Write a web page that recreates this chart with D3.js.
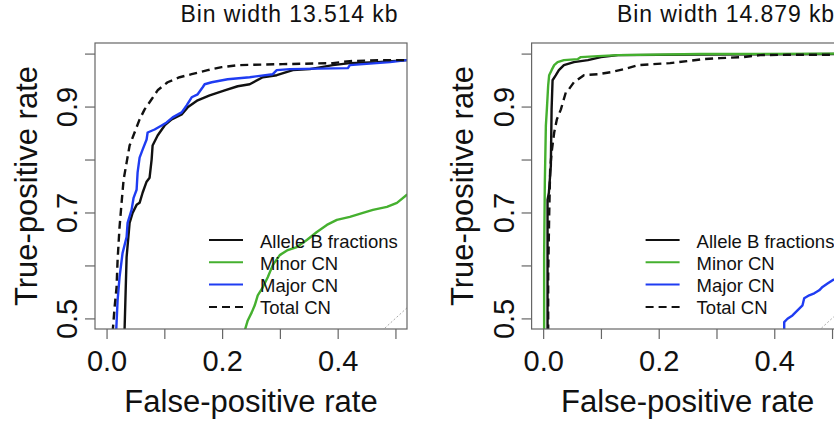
<!DOCTYPE html>
<html>
<head>
<meta charset="utf-8">
<script src="https://cdn.jsdelivr.net/npm/d3@7"></script>
<style>
  html, body { margin: 0; padding: 0; background: #fff; overflow: hidden; }
  svg { display: block; font-family: "Liberation Sans", Arial, Helvetica, sans-serif; }
</style>
</head>
<body>
<svg id="chart" width="834" height="421"></svg>
<script>
// ---------- data ----------
const titles = ["Bin width 13.514 kb", "Bin width 14.879 kb"];
const seriesNames = ["Allele B fractions", "Minor CN", "Major CN", "Total CN"];
const xTicks = [0, 0.1, 0.2, 0.3, 0.4, 0.5];
const xTickLabels = ["0.0", "", "0.2", "", "0.4", ""];
const yTicks = [0.5, 0.6, 0.7, 0.8, 0.9, 1.0];
const yTickLabels = ["0.5", "", "0.7", "", "0.9", ""];

// panel 1 (13.514 kb): [false-positive rate, true-positive rate]
const p1AlleleB = [[0.0295,0.4488],[0.0312,0.4791],[0.0347,0.6157],[0.0399,0.6803],[0.0451,0.6992],[0.0520,0.7144],[0.0572,0.7182],[0.0624,0.7372],[0.0693,0.7581],[0.0745,0.7657],[0.0780,0.7998],[0.0797,0.8264],[0.0884,0.8454],[0.1005,0.8643],[0.1127,0.8757],[0.1300,0.8852],[0.1404,0.8985],[0.1577,0.9118],[0.1785,0.9213],[0.2045,0.9307],[0.2270,0.9383],[0.2478,0.9421],[0.2704,0.9554],[0.2946,0.9592],[0.3224,0.9687],[0.3518,0.9706],[0.3917,0.9782],[0.4211,0.9820],[0.4679,0.9839],[0.5199,0.9877],[0.60,0.990]];
const p1Minor = [[0.2374,0.4488],[0.2392,0.4772],[0.2444,0.4962],[0.2513,0.5114],[0.2565,0.5247],[0.2617,0.5436],[0.2704,0.5588],[0.2790,0.5778],[0.2877,0.6006],[0.2998,0.6195],[0.3137,0.6290],[0.3293,0.6347],[0.3466,0.6480],[0.3640,0.6632],[0.3813,0.6765],[0.3986,0.6860],[0.4211,0.6917],[0.4437,0.6992],[0.4610,0.7049],[0.4853,0.7106],[0.5026,0.7182],[0.5199,0.7334],[0.55,0.745]];
const p1Major = [[0.0156,0.4488],[0.0168,0.4791],[0.0191,0.5342],[0.0225,0.5778],[0.0277,0.6233],[0.0347,0.6537],[0.0364,0.6803],[0.0433,0.7049],[0.0468,0.7277],[0.0520,0.7429],[0.0537,0.7751],[0.0572,0.8036],[0.0624,0.8188],[0.0693,0.8378],[0.0711,0.8510],[0.0832,0.8567],[0.0953,0.8643],[0.1040,0.8700],[0.1144,0.8795],[0.1300,0.8890],[0.1386,0.9023],[0.1473,0.9175],[0.1577,0.9231],[0.1664,0.9364],[0.1698,0.9421],[0.1820,0.9459],[0.2097,0.9516],[0.2478,0.9554],[0.2877,0.9611],[0.2946,0.9687],[0.3172,0.9706],[0.4177,0.9725],[0.4211,0.9782],[0.4905,0.9839],[0.5199,0.9877],[0.60,0.990]];
const p1Total = [[0.0104,0.4488],[0.0109,0.4791],[0.0139,0.5209],[0.0173,0.5588],[0.0191,0.6101],[0.0225,0.6727],[0.0260,0.7182],[0.0295,0.7619],[0.0347,0.7941],[0.0399,0.8264],[0.0485,0.8510],[0.0572,0.8757],[0.0659,0.8947],[0.0780,0.9137],[0.0884,0.9307],[0.1057,0.9459],[0.1265,0.9554],[0.1473,0.9611],[0.1750,0.9687],[0.1993,0.9744],[0.2270,0.9782],[0.3050,0.9801],[0.3917,0.9820],[0.4211,0.9858],[0.4783,0.9877],[0.5199,0.9877],[0.60,0.990]];

// panel 2 (14.879 kb)
const p2AlleleB = [[0.0073,0.4488],[0.0076,0.4791],[0.0076,0.7239],[0.0099,0.7372],[0.0133,0.7884],[0.0146,0.8947],[0.0163,0.9497],[0.0220,0.9592],[0.0272,0.9687],[0.0359,0.9782],[0.0532,0.9839],[0.0775,0.9877],[0.1000,0.9934],[0.1295,0.9972],[0.2716,0.9981],[0.5038,0.9991],[0.60,0.9995]];
const p2Minor = [[0.0012,0.4488],[0.0017,0.4791],[0.0017,0.6176],[0.0029,0.7562],[0.0047,0.8643],[0.0064,0.8947],[0.0087,0.9402],[0.0104,0.9592],[0.0146,0.9687],[0.0191,0.9782],[0.0250,0.9839],[0.0359,0.9877],[0.0601,0.9896],[0.0653,0.9934],[0.0948,0.9953],[0.1295,0.9972],[0.2716,0.9991],[0.5038,1.0000],[0.60,1.0000]];
const p2Major = [[0.4163,0.4488],[0.4172,0.4791],[0.4172,0.4930],[0.4229,0.4994],[0.4315,0.5057],[0.4402,0.5152],[0.4489,0.5247],[0.4518,0.5380],[0.4605,0.5436],[0.4692,0.5474],[0.4778,0.5531],[0.4835,0.5594],[0.4922,0.5658],[0.5009,0.5721],[0.5228,0.5816]];
const p2Total = [[0.0081,0.4488],[0.0087,0.4791],[0.0087,0.5797],[0.0104,0.6935],[0.0121,0.7808],[0.0146,0.8131],[0.0191,0.8510],[0.0237,0.8757],[0.0307,0.8947],[0.0393,0.9269],[0.0445,0.9326],[0.0532,0.9459],[0.0705,0.9592],[0.0948,0.9611],[0.1173,0.9649],[0.1399,0.9706],[0.1641,0.9782],[0.1901,0.9801],[0.2196,0.9820],[0.2491,0.9858],[0.2768,0.9896],[0.3063,0.9915],[0.3461,0.9934],[0.3756,0.9972],[0.4224,0.9977],[0.5038,0.9977],[0.60,0.9977]];

const panels = [
  { title: titles[0], series: [p1AlleleB, p1Minor, p1Major, p1Total] },
  { title: titles[1], series: [p2AlleleB, p2Minor, p2Major, p2Total] }
];

// ---------- styles ----------
const colors = ["#111111", "#45b02f", "#1f3cf2", "#111111"];
const dashes = [null, null, null, "8,5"];
const panelOffset = 436.6;

const svg = d3.select("#chart");

panels.forEach((p, i) => {
  const ox = i * panelOffset;
  const left = 95 + ox, right = 407 + ox, top = 43, bottom = 329;
  const x = d3.scaleLinear().domain([-0.02, 0.52]).range([left, right]);
  const y = d3.scaleLinear().domain([0.48, 1.02]).range([bottom, top]);
  const g = svg.append("g");

  const clipId = "clip" + i;
  g.append("clipPath").attr("id", clipId)
    .append("rect").attr("x", left).attr("y", top).attr("width", right - left).attr("height", bottom - top);

  const plot = g.append("g").attr("clip-path", `url(#${clipId})`);

  // diagonal reference line
  plot.append("line")
    .attr("x1", x(0.4)).attr("y1", y(0.4)).attr("x2", x(0.6)).attr("y2", y(0.6))
    .attr("stroke", "#aaaaaa").attr("stroke-width", 1).attr("stroke-dasharray", "2,2");

  const line = d3.line().x(d => x(d[0])).y(d => y(d[1]));
  p.series.forEach((s, k) => {
    plot.append("path").datum(s)
      .attr("d", line)
      .attr("fill", "none")
      .attr("stroke", colors[k])
      .attr("stroke-width", 2.4)
      .attr("stroke-linejoin", "round")
      .attr("stroke-dasharray", dashes[k]);
  });

  // box
  g.append("rect").attr("x", left).attr("y", top).attr("width", right - left).attr("height", bottom - top)
    .attr("fill", "none").attr("stroke", "#666").attr("stroke-width", 1.2);

  // x axis
  const xa = g.append("g").attr("transform", `translate(0,${bottom})`)
    .call(d3.axisBottom(x).tickValues(xTicks).tickSize(10).tickSizeOuter(0)
      .tickFormat((d, j) => xTickLabels[j]));
  xa.select(".domain").remove();
  xa.selectAll("line").attr("stroke", "#666").attr("stroke-width", 1.2);
  xa.selectAll("text").attr("y", 42).attr("dy", null)
    .attr("font-size", 29).attr("fill", "#111").attr("font-family", "Liberation Sans, Arial, sans-serif");

  // y axis
  const ya = g.append("g").attr("transform", `translate(${left},0)`)
    .call(d3.axisLeft(y).tickValues(yTicks).tickSize(10).tickSizeOuter(0)
      .tickFormat((d, j) => yTickLabels[j]));
  ya.select(".domain").remove();
  ya.selectAll("line").attr("stroke", "#666").attr("stroke-width", 1.2);
  ya.selectAll("text").attr("x", null).attr("dy", null)
    .attr("transform", "translate(-18,0) rotate(-90)")
    .attr("text-anchor", "middle")
    .attr("font-size", 29).attr("fill", "#111").attr("font-family", "Liberation Sans, Arial, sans-serif");

  // axis titles
  g.append("text").attr("x", (left + right) / 2).attr("y", 411.5)
    .attr("text-anchor", "middle").attr("font-size", 31).attr("fill", "#111")
    .text("False-positive rate");
  g.append("text").attr("transform", `translate(${36.5 + ox},${(top + bottom) / 2}) rotate(-90)`)
    .attr("text-anchor", "middle").attr("font-size", 31).attr("fill", "#111")
    .text("True-positive rate");

  // panel title
  g.append("text").attr("x", 289 + ox).attr("y", 21.7)
    .attr("text-anchor", "middle").attr("font-size", 23).attr("fill", "#111")
    .attr("textLength", 217).attr("lengthAdjust", "spacing")
    .text(p.title);

  // legend
  const lg = g.append("g");
  seriesNames.forEach((name, k) => {
    const ly = 240 + k * 22.3;
    lg.append("line").attr("x1", 209 + ox).attr("x2", 243 + ox).attr("y1", ly).attr("y2", ly)
      .attr("stroke", colors[k]).attr("stroke-width", 2).attr("stroke-dasharray", dashes[k]);
    lg.append("text").attr("x", 260 + ox).attr("y", ly + 7.5)
      .attr("font-size", 18.5).attr("fill", "#111").text(name);
  });
});
</script>
</body>
</html>
